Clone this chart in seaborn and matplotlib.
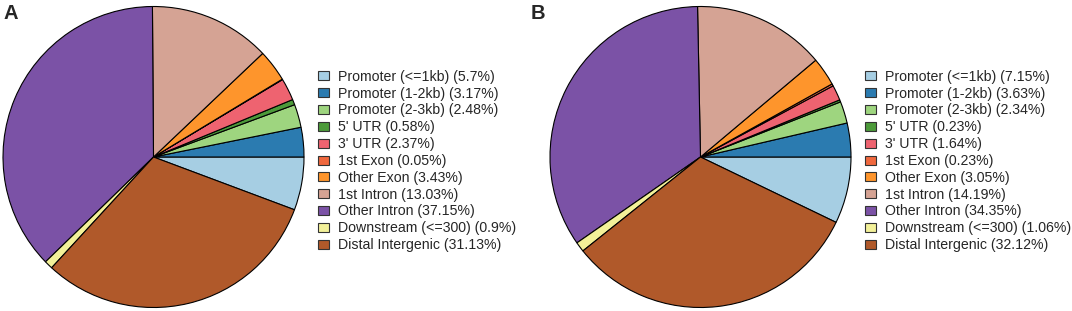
import matplotlib
matplotlib.use("Agg")
import matplotlib.pyplot as plt
import seaborn as sns
from matplotlib.patches import Patch

# Data
features = ["Promoter (<=1kb)", "Promoter (1-2kb)", "Promoter (2-3kb)", "5' UTR",
            "3' UTR", "1st Exon", "Other Exon", "1st Intron", "Other Intron",
            "Downstream (<=300)", "Distal Intergenic"]
pct_a = [5.7, 3.17, 2.48, 0.58, 2.37, 0.05, 3.43, 13.03, 37.15, 0.9, 31.13]
pct_b = [7.15, 3.63, 2.34, 0.23, 1.64, 0.23, 3.05, 14.19, 34.35, 1.06, 32.12]

hex_cols = ["#A6CEE3", "#2B7BB0", "#9ED57F", "#4C9A3A", "#EE6370", "#F0683E",
            "#FE952C", "#D5A394", "#7B52A6", "#F3F199", "#B0592A"]

sns.set_theme(style="white")
plt.rcParams['font.family'] = ['Liberation Sans', 'DejaVu Sans']
colors = sns.color_palette(hex_cols)

W, H = 1072, 311
fig = plt.figure(figsize=(W / 100, H / 100), dpi=100)


def draw_panel(cx, r, pcts, label, label_x, leg_x):
    ax = fig.add_axes([(cx - r) / W, (H - 157 - r) / H, 2 * r / W, 2 * r / H])
    ax.pie(pcts, colors=colors, startangle=-pcts[0] * 3.6, counterclock=True,
           wedgeprops=dict(edgecolor="black", linewidth=0.8))
    ax.set_aspect("equal")
    ax.set_xlim(-1.0, 1.0)
    ax.set_ylim(-1.0, 1.0)
    handles = [Patch(facecolor=c, edgecolor="#333333", linewidth=0.8) for c in colors]
    labels = [f"{f} ({p}%)" for f, p in zip(features, pcts)]
    fig.legend(handles, labels, loc="center left",
               bbox_to_anchor=(leg_x / W, (H - 161) / H), frameon=False,
               fontsize=10.2, handlelength=0.8, handleheight=0.6,
               handletextpad=0.65, labelspacing=0.2, borderaxespad=0)
    fig.text(label_x / W, 1 - 4 / H, label, fontsize=14.5, fontweight="bold",
             va="top", ha="left")


draw_panel(153.5, 150.5, pct_a, "A", 3, 312)
draw_panel(700.5, 150.5, pct_b, "B", 531, 859)

fig.savefig("out.png", dpi=100)
